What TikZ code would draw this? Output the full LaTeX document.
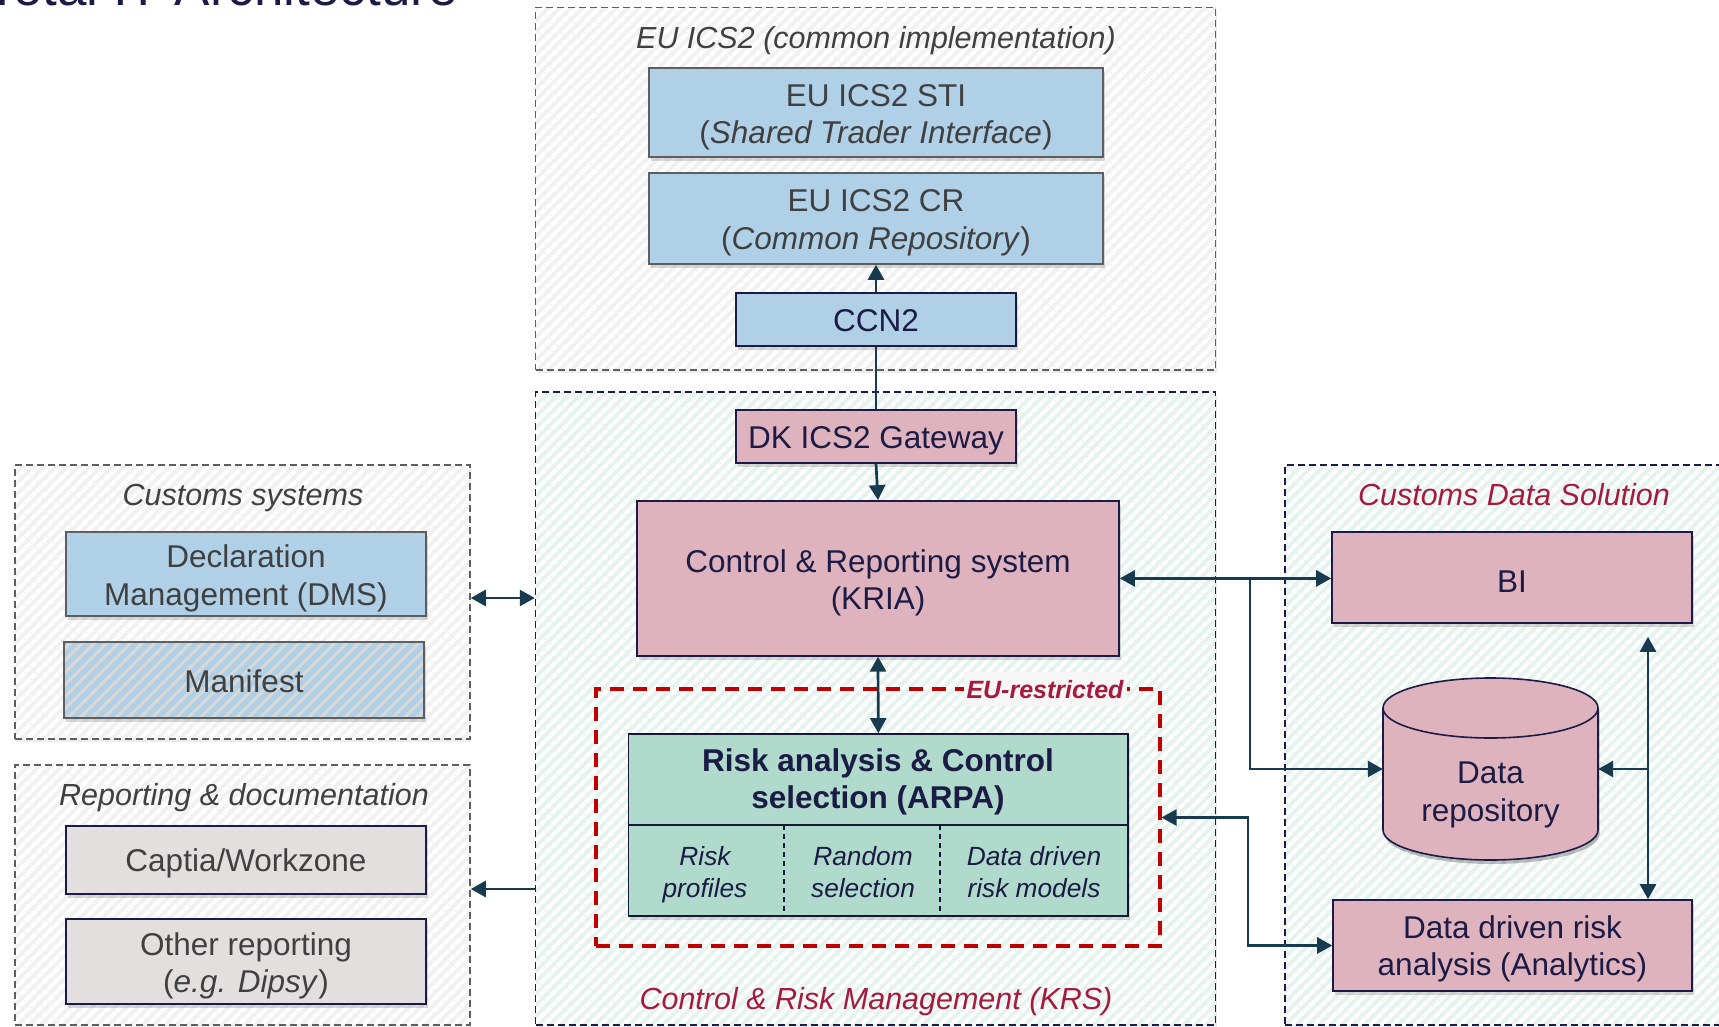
\documentclass[tikz,border=0pt]{standalone}
\usepackage{fontspec}
\setmainfont{Liberation Sans}
\usetikzlibrary{arrows.meta,patterns.meta,shadows}

\definecolor{navy}{HTML}{1B1B45}
\definecolor{arrowc}{HTML}{173A4E}
\definecolor{bluef}{HTML}{AFD0E6}
\definecolor{pinkf}{HTML}{DFB3BD}
\definecolor{mintf}{HTML}{B0DACB}
\definecolor{grayf}{HTML}{E4DFDF}
\definecolor{txtgray}{HTML}{404040}
\definecolor{redt}{HTML}{A51A3E}
\definecolor{redd}{HTML}{C00000}
\definecolor{grpgray}{HTML}{F1F1F1}
\definecolor{grpmint}{HTML}{E6F2EE}
\definecolor{bordgray}{HTML}{5E5E5E}
\definecolor{stripegray}{HTML}{DAD7D4}
\definecolor{labelbg}{HTML}{F6F6F6}

\newcommand\myfbig{\fontsize{31.5pt}{37.5pt}\selectfont}
\newcommand\myftitle{\fontsize{30.5pt}{36pt}\selectfont\itshape}
\newcommand\myfsmall{\fontsize{26.3pt}{32pt}\selectfont\itshape}

\tikzset{
  grpbase/.style={line width=1.5pt, dash pattern=on 7pt off 4pt, inner sep=0pt,
    drop shadow={shadow xshift=1pt, shadow yshift=-3pt, opacity=0.15},
    pattern={Lines[angle=45,distance=8pt,line width=4pt]}, pattern color=white},
  grpgrey/.style={grpbase, draw=bordgray, preaction={fill=grpgray}},
  grpmintst/.style={grpbase, draw=navy, preaction={fill=grpmint}},
  grptitle/.style={font=\myftitle, anchor=base, inner sep=0pt},
  box/.style={draw, line width=1.6pt, inner sep=0pt,
    drop shadow={shadow xshift=1.5pt, shadow yshift=-4pt, opacity=0.3}},
  bluebox/.style={box, fill=bluef, draw=bordgray},
  pinkbox/.style={box, fill=pinkf, draw=navy},
  graybox/.style={box, fill=grayf, draw=navy},
  btxt/.style={align=center, inner sep=0pt, font=\myfbig},
  ln/.style={draw=arrowc, line width=2.7pt},
  >={Triangle[width=16pt,length=15pt]}
}

\begin{document}
\begin{tikzpicture}[x=1pt,y=-1pt]
\useasboundingbox (0,0) rectangle (1719,1026);

% cut-off slide title
\node[anchor=base east, inner sep=0pt, font=\fontsize{53pt}{60pt}\selectfont, text=navy] (title) at (458,5) {Total IT Architecture};

% groups
\node[grpgrey, minimum width=680pt, minimum height=362.7pt] (euGrp) at (875.55,188.65) {};
\node[grpmintst, minimum width=680pt, minimum height=633pt] (krsGrp) at (875.55,708.5) {};
\node[grpgrey, minimum width=455pt, minimum height=274pt] (csGrp) at (242.5,602) {};
\node[grpgrey, minimum width=455pt, minimum height=260pt] (rdGrp) at (242.5,895) {};
\node[grpmintst, minimum width=445pt, minimum height=560pt] (cdsGrp) at (1507.5,745) {};

% group titles
\node[grptitle, text=txtgray] (euT) at (876,48.5) {EU ICS2 (common implementation)};
\node[grptitle, text=txtgray] (csT) at (243,505.5) {Customs systems};
\node[grptitle, text=txtgray] (rdT) at (244,805.5) {Reporting \& documentation};
\node[grptitle, text=redt] (cdsT) at (1514,505.5) {Customs Data Solution};
\node[grptitle, text=redt] (krsT) at (876,1009.5) {Control \& Risk Management (KRS)};

% EU ICS2 boxes
\node[bluebox, minimum width=454pt, minimum height=89pt] (sti) at (876,112.5) {};
\node[btxt, text=txtgray] (stiT) at ([yshift=-5pt]sti.center) {EU ICS2 STI\\(\textit{Shared Trader Interface})};
\node[bluebox, minimum width=454pt, minimum height=91pt] (cr) at (876,218.5) {};
\node[btxt, text=txtgray] (crT) at ([yshift=-4.5pt]cr.center) {EU ICS2 CR\\(\textit{Common Repository})};
\node[bluebox, draw=navy, minimum width=280pt, minimum height=53pt] (ccn2) at (876,319.5) {};
\node[btxt, text=navy] (ccn2T) at ([yshift=-1.5pt]ccn2.center) {CCN2};

% KRS boxes
\node[pinkbox, minimum width=280pt, minimum height=53pt] (gw) at (876,436.5) {};
\node[btxt, text=navy] (gwT) at ([yshift=-4pt]gw.center) {DK ICS2 Gateway};
\node[pinkbox, minimum width=482pt, minimum height=155pt] (kria) at (878,578.4) {};
\node[btxt, text=navy] (kriaT) at ([yshift=-4.5pt]kria.center) {Control \& Reporting system\\(KRIA)};

% EU-restricted area
\node[draw=redd, line width=3.5pt, dash pattern=on 14pt off 9pt, inner sep=0pt,
      minimum width=564pt, minimum height=257pt] (euR) at (877.75,817.5) {};
\node[fill=labelbg, text=redt, inner xsep=3pt, inner ysep=8pt, anchor=base,
      font=\fontsize{25pt}{30pt}\selectfont\bfseries\itshape] (euRT) at (1045,698) {EU-restricted};

% ARPA
\node[box, fill=mintf, draw=navy!80!black, minimum width=499.4pt, minimum height=182pt] (arpa) at (878.3,825) {};
\draw[draw=navy!80!black, line width=1.6pt] (arpa.west |- 0,825) -- (arpa.east |- 0,825);
\draw[draw=navy!80!black, line width=1.4pt, dash pattern=on 5pt off 4pt] (784,825) -- (784,916);
\draw[draw=navy!80!black, line width=1.4pt, dash pattern=on 5pt off 4pt] (940,825) -- (940,916);
\node[btxt, text=navy, font=\myfbig\bfseries] (arpaT) at (878,782) {Risk analysis \& Control\\selection (ARPA)};
\node[btxt, text=navy, font=\myfsmall] (rp) at (705,875) {Risk\\profiles};
\node[btxt, text=navy, font=\myfsmall] (rs) at (863,875) {Random\\selection\vphantom{p}};
\node[btxt, text=navy, font=\myfsmall] (dm) at (1034,875) {Data driven\\risk models\vphantom{p}};

% Customs systems
\node[bluebox, minimum width=360pt, minimum height=84pt] (dms) at (246,574) {};
\node[btxt, text=txtgray] (dmsT) at ([yshift=-4.5pt]dms.center) {Declaration\\Management (DMS)};
\node[box, draw=bordgray, preaction={fill=bluef},
      pattern={Lines[angle=45,distance=8.5pt,line width=3.2pt]}, pattern color=stripegray,
      minimum width=360pt, minimum height=76pt] (manifest) at (244,680) {};
\node[btxt, text=txtgray] (manifestT) at ([yshift=-1.5pt]manifest.center) {Manifest};

% Reporting
\node[graybox, minimum width=360pt, minimum height=68pt] (captia) at (246,860) {};
\node[btxt, text=txtgray] (captiaT) at ([yshift=-3.5pt]captia.center) {Captia/Workzone};
\node[graybox, minimum width=360pt, minimum height=85pt] (other) at (246,961.5) {};
\node[btxt, text=txtgray] (otherT) at ([yshift=-4.5pt]other.center) {Other reporting\\(\textit{e.g. Dipsy})};

% Customs Data Solution
\node[pinkbox, minimum width=360pt, minimum height=91pt] (bi) at (1512,577.5) {};
\node[btxt, text=navy] (biT) at ([yshift=-4pt]bi.center) {BI};
\node[pinkbox, minimum width=359pt, minimum height=91pt] (ana) at (1512.5,945.5) {};
\node[btxt, text=navy] (anaT) at ([yshift=-3.5pt]ana.center) {Data driven risk\\analysis (Analytics)};
% cylinder
\fill[black, opacity=0.25] (1384.5,712) -- (1384.5,834) arc[start angle=180,end angle=360,x radius=107.5pt,y radius=30pt] -- (1599.5,712) arc[start angle=0,end angle=180,x radius=107.5pt,y radius=30pt] -- cycle;
\draw[fill=pinkf, draw=navy, line width=1.6pt] (1383,708) -- (1383,830) arc[start angle=180,end angle=360,x radius=107.5pt,y radius=30pt] -- (1598,708) arc[start angle=0,end angle=180,x radius=107.5pt,y radius=30pt] -- cycle;
\draw[draw=navy, line width=1.6pt] (1383,708) arc[start angle=180,end angle=360,x radius=107.5pt,y radius=30pt];
\node[minimum width=215pt, minimum height=182pt, inner sep=0pt] (repo) at (1490.5,769) {};
\node[btxt, text=navy] (repoT) at (1490.5,795) {Data\\repository};

% connectors
\coordinate (j1) at (1250,0);
\coordinate (j2) at (1248,0);
\coordinate (rv) at (1648,0);
\draw[ln,->] (ccn2.north) -- (cr.south);
\draw[ln] (ccn2.south) -- (gw.north);
\draw[ln,->] (gw.south) -- (kria.north);
\draw[ln,<->] (kria.south) -- (arpa.north);
\draw[ln,<->] ([yshift=4pt]csGrp.east) -- ([yshift=4pt]csGrp.east -| krsGrp.west);
\draw[ln,->] ([yshift=6pt]rdGrp.east -| krsGrp.west) -- ([yshift=6pt]rdGrp.east);
\draw[ln,<->] (kria.east) -- (kria.east -| bi.west);
\draw[ln,->] (kria.east -| j1) |- (repo.west);
\draw[ln,<->] (euR.east) -- (euR.east -| j2) |- (ana.west);
\draw[ln,<->] ([yshift=-13pt]bi.south -| rv) -- (ana.north -| rv);
\draw[ln,->] (repo.east -| rv) -- (repo.east);
\end{tikzpicture}
\end{document}
